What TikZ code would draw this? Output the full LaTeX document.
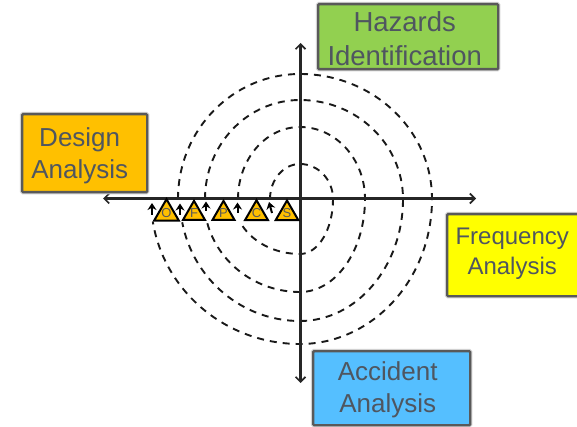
\documentclass[tikz,border=0pt]{standalone}
\usepackage{fontspec}
\setmainfont{Liberation Sans}
\usetikzlibrary{arrows.meta,shapes.geometric}
\definecolor{txt}{HTML}{4F5660}
\definecolor{edge}{HTML}{595959}
\definecolor{warn}{HTML}{FFC000}
\definecolor{hazgreen}{HTML}{92D050}
\definecolor{accblue}{HTML}{55BFFF}
\definecolor{freqyellow}{HTML}{FFFF00}
\newcommand{\shiftline}[3]{\hspace*{#1}\raisebox{#2}[\height][\depth]{#3}}
\tikzset{
  ring/.style={draw=black!90,line width=1.9pt,dash pattern=on 7pt off 6pt},
  axis/.style={draw=black!85,line width=2.1pt,{Straight Barb[length=5pt,width=10pt,line width=1.7pt]}-{Straight Barb[length=5pt,width=10pt,line width=1.7pt]}},
  box/.style={draw=edge,line width=2.4pt,rounded corners=1pt,anchor=north west,inner sep=0pt,align=center,text=txt,
    preaction={draw=black!18,line width=4.5pt}},
  haz/.style={regular polygon,regular polygon sides=3,draw=black,line width=2pt,fill=warn,minimum size=25pt,inner sep=0pt,outer sep=0pt,
    text=black!65,font=\fontsize{13}{13}\selectfont},
  tick/.style={draw=black,line width=2pt,-{Stealth[length=7pt,width=9pt]}}
}
\begin{document}
\begin{tikzpicture}[x=1pt,y=-1pt]
\useasboundingbox (0,0) rectangle (577,427);
\clip (0,0) rectangle (577,427);
% rings
\draw[ring] (178,199) arc[start angle=180,end angle=270,x radius=122,y radius=125]
  arc[start angle=270,end angle=360,x radius=132,y radius=125]
  arc[start angle=0,end angle=90,x radius=132,y radius=145]
  arc[start angle=90,end angle=171,x radius=149,y radius=145];
\draw[ring] (205,199) arc[start angle=180,end angle=270,x radius=95,y radius=99]
  arc[start angle=270,end angle=360,x radius=103,y radius=99]
  arc[start angle=0,end angle=90,x radius=103,y radius=122]
  arc[start angle=90,end angle=169,x radius=120,y radius=122];
\draw[ring] (238,199) arc[start angle=180,end angle=270,x radius=62,y radius=72]
  arc[start angle=270,end angle=360,x radius=65,y radius=72]
  arc[start angle=0,end angle=90,x radius=65,y radius=93]
  arc[start angle=90,end angle=165.5,x radius=96,y radius=93];
\draw[ring] (270,199) arc[start angle=180,end angle=270,x radius=30,y radius=35]
  arc[start angle=270,end angle=360,x radius=33,y radius=35]
  arc[start angle=0,end angle=90,x radius=33,y radius=55]
  arc[start angle=90,end angle=156,x radius=66,y radius=55];
% axes
\coordinate (west) at (103,198.5);
\coordinate (east) at (476,198.5);
\coordinate (north) at (300.5,43);
\coordinate (south) at (300.5,383);
\draw[axis] (west) -- (east);
\draw[axis] (north) -- (south);
% boxes
\node[box,fill=warn,minimum width=125pt,minimum height=78pt,font=\fontsize{26}{32}\selectfont] (design) at (21,113)
  {\shiftline{-10pt}{-3pt}{Design}\\\shiftline{-10pt}{-3pt}{Analysis}};
\node[box,fill=hazgreen,minimum width=180pt,minimum height=65pt,font=\fontsize{27.5}{34}\selectfont] (hazards) at (317,3)
  {\shiftline{-7pt}{-1.5pt}{Hazards}\\\shiftline{-7pt}{-1.5pt}{Identification}};
\node[box,fill=freqyellow,minimum width=140pt,minimum height=82pt,font=\fontsize{24}{30}\selectfont] (frequency) at (446,213)
  {\shiftline{-10pt}{1.5pt}{Frequency}\\\shiftline{-10pt}{1.5pt}{Analysis}};
\node[box,fill=accblue,minimum width=157pt,minimum height=74pt,font=\fontsize{26}{32}\selectfont] (accident) at (312,350)
  {\shiftline{-8pt}{-2pt}{Accident}\\\shiftline{-8pt}{-2pt}{Analysis}};
% hazard triangles
\node[haz] (o) at (166.5,213.5) {O};
\node[haz] (f) at (194,213.5) {F};
\node[haz] (p) at (223.5,213.5) {P};
\node[haz] (c) at (256.5,213.5) {C};
\node[haz] (s) at (287,213.5) {S};
% small arrows
\coordinate (a1) at (152,215); \coordinate (b1) at (152,203);
\coordinate (a2) at (180,215); \coordinate (b2) at (180,203.5);
\coordinate (a3) at (206,211); \coordinate (b3) at (206,201.5);
\coordinate (a4) at (237.5,213); \coordinate (b4) at (237.5,202.5);
\coordinate (a5) at (272,213); \coordinate (b5) at (269,202);
\draw[tick] (a1) -- (b1);
\draw[tick] (a2) -- (b2);
\draw[tick] (a3) -- (b3);
\draw[tick] (a4) -- (b4);
\draw[tick] (a5) -- (b5);
\end{tikzpicture}
\end{document}
